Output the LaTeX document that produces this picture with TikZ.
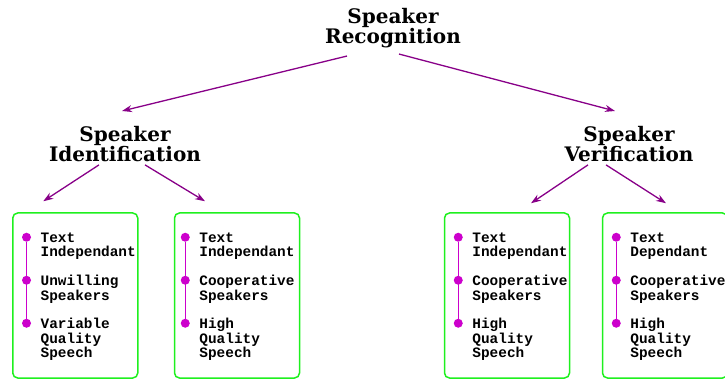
\documentclass[tikz,border=0pt]{standalone}
\usepackage{fontspec}
\usepackage{xcolor}
\usepackage{tikz}
\usetikzlibrary{arrows.meta}
\newfontfamily\headfont{DejaVu Serif}
\newfontfamily\itemfont{Liberation Mono}
\definecolor{boxgreen}{RGB}{30,240,30}
\definecolor{dotpink}{RGB}{204,0,204}
\definecolor{arrpurple}{RGB}{136,0,136}
\tikzset{
  heading/.style={inner sep=0pt, align=center, anchor=north, font=\headfont\bfseries\fontsize{20}{20}\selectfont},
  catbox/.style={draw=boxgreen, line width=1.5pt, rounded corners=5pt, minimum width=125pt, minimum height=165pt, inner sep=0pt},
  item/.style={inner sep=0pt, align=left, anchor=north west, font=\itemfont\bfseries\fontsize{14.4}{14.3}\selectfont},
  dot/.style={circle, fill=dotpink, inner sep=0pt, minimum size=9pt},
  stem/.style={dotpink, line width=1.5pt},
  arr/.style={-{Stealth[length=10pt, width=7pt]}, line width=1.3pt, arrpurple}
}
\begin{document}
\begin{tikzpicture}[x=1pt, y=-1pt]
\useasboundingbox (0,0) rectangle (725,379);
\node[heading] (rec) at (393,8) {Speaker\\Recognition};
\node[heading] (ident) at (125,126) {Speaker\\Identification};
\node[heading] (verif) at (629,126) {Speaker\\Verification};

\node[catbox] (b1) at (75.25,295.5) {};
\node[catbox] (b2) at (237,295.5) {};
\node[catbox] (b3) at (507,295.5) {};
\node[catbox] (b4) at (665,295.5) {};

% box 1
\node[dot] (b1d1) at ([xshift=14.5pt, yshift=-25pt]b1.north west) {};
\node[dot] (b1d2) at ([xshift=14.5pt, yshift=-68pt]b1.north west) {};
\node[dot] (b1d3) at ([xshift=14.5pt, yshift=-111pt]b1.north west) {};
\draw[stem] (b1d1) -- (b1d3);
\node[item] (b1t1) at ([xshift=28.5pt, yshift=-20pt]b1.north west) {Text\\Independant};
\node[item] (b1t2) at ([xshift=28.5pt, yshift=-63pt]b1.north west) {Unwilling\\Speakers};
\node[item] (b1t3) at ([xshift=28.5pt, yshift=-106pt]b1.north west) {Variable\\Quality\\Speech};

% box 2
\node[dot] (b2d1) at ([xshift=11.5pt, yshift=-25pt]b2.north west) {};
\node[dot] (b2d2) at ([xshift=11.5pt, yshift=-68pt]b2.north west) {};
\node[dot] (b2d3) at ([xshift=11.5pt, yshift=-111pt]b2.north west) {};
\draw[stem] (b2d1) -- (b2d3);
\node[item] (b2t1) at ([xshift=25.5pt, yshift=-20pt]b2.north west) {Text\\Independant};
\node[item] (b2t2) at ([xshift=25.5pt, yshift=-63pt]b2.north west) {Cooperative\\Speakers};
\node[item] (b2t3) at ([xshift=25.5pt, yshift=-106pt]b2.north west) {High\\Quality\\Speech};

% box 3
\node[dot] (b3d1) at ([xshift=14.5pt, yshift=-25pt]b3.north west) {};
\node[dot] (b3d2) at ([xshift=14.5pt, yshift=-68pt]b3.north west) {};
\node[dot] (b3d3) at ([xshift=14.5pt, yshift=-111pt]b3.north west) {};
\draw[stem] (b3d1) -- (b3d3);
\node[item] (b3t1) at ([xshift=28.5pt, yshift=-20pt]b3.north west) {Text\\Independant};
\node[item] (b3t2) at ([xshift=28.5pt, yshift=-63pt]b3.north west) {Cooperative\\Speakers};
\node[item] (b3t3) at ([xshift=28.5pt, yshift=-106pt]b3.north west) {High\\Quality\\Speech};

% box 4
\node[dot] (b4d1) at ([xshift=14.5pt, yshift=-25pt]b4.north west) {};
\node[dot] (b4d2) at ([xshift=14.5pt, yshift=-68pt]b4.north west) {};
\node[dot] (b4d3) at ([xshift=14.5pt, yshift=-111pt]b4.north west) {};
\draw[stem] (b4d1) -- (b4d3);
\node[item] (b4t1) at ([xshift=28.5pt, yshift=-20pt]b4.north west) {Text\\Dependant};
\node[item] (b4t2) at ([xshift=28.5pt, yshift=-63pt]b4.north west) {Cooperative\\Speakers};
\node[item] (b4t3) at ([xshift=28.5pt, yshift=-106pt]b4.north west) {High\\Quality\\Speech};

\draw[arr] ([xshift=-46pt, yshift=-8pt]rec.south) -- ([xshift=-3pt, yshift=15pt]ident.north);
\draw[arr] ([xshift=6pt, yshift=-6pt]rec.south) -- ([xshift=-14pt, yshift=15pt]verif.north);
\draw[arr] ([xshift=-26pt, yshift=-3pt]ident.south) -- ([xshift=-32pt, yshift=11pt]b1.north);
\draw[arr] ([xshift=20pt, yshift=-3pt]ident.south) -- ([xshift=-32pt, yshift=11pt]b2.north);
\draw[arr] ([xshift=-41pt, yshift=-3pt]verif.south) -- ([xshift=24pt, yshift=9pt]b3.north);
\draw[arr] ([xshift=-23pt, yshift=-3pt]verif.south) -- ([xshift=1pt, yshift=9pt]b4.north);
\end{tikzpicture}
\end{document}
